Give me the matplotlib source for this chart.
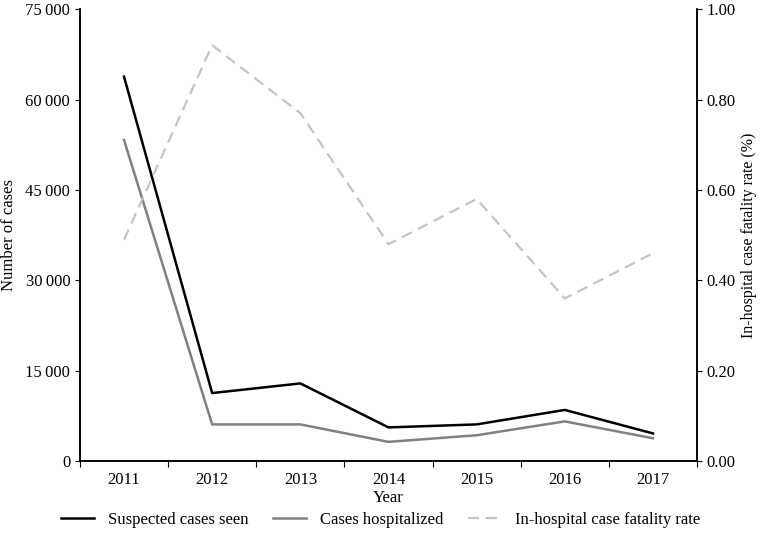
import matplotlib.pyplot as plt
import numpy as np
from matplotlib.ticker import FuncFormatter

plt.rcParams['font.family'] = ['Liberation Serif', 'DejaVu Serif']

years = ['2011', '2012', '2013', '2014', '2015', '2016', '2017']
suspected = [63800, 11300, 12900, 5600, 6100, 8500, 4600]
hospitalized = [53300, 6100, 6100, 3200, 4300, 6600, 3800]
cfr = [0.49, 0.92, 0.77, 0.48, 0.58, 0.36, 0.46]

x = np.arange(len(years))

fig = plt.figure(figsize=(7.61, 5.35), dpi=100)
ax = fig.add_axes([0.105, 0.138, 0.811, 0.845])
ax2 = ax.twinx()

l1, = ax.plot(x, suspected, color='black', lw=1.8, label='Suspected cases seen')
l2, = ax.plot(x, hospitalized, color='#808080', lw=1.8, label='Cases hospitalized')
l3, = ax2.plot(x, cfr, color='#c4c4c4', lw=1.6, ls=(0, (5, 3)), label='In-hospital case fatality rate')

ax.set_xlim(-0.5, len(years) - 0.5)
ax.set_ylim(0, 75000)
ax2.set_ylim(0, 1.0)
ax.set_yticks(np.arange(0, 75001, 15000))
ax.yaxis.set_major_formatter(FuncFormatter(lambda v, p: f'{int(v):,}'.replace(',', '\u2009')))
ax2.set_yticks(np.arange(0, 1.01, 0.2))
ax2.yaxis.set_major_formatter(FuncFormatter(lambda v, p: f'{v:.2f}'))

# ticks between the years, labels in the middle
ax.set_xticks(np.arange(-0.5, len(years), 1.0))
ax.set_xticklabels([])
ax.set_xticks(x, minor=True)
ax.set_xticklabels(years, minor=True)
ax.tick_params(axis='x', which='minor', length=0, pad=8, labelsize=12)
ax.tick_params(axis='x', which='major', length=4, direction='out')

for a in (ax, ax2):
    a.spines['top'].set_visible(False)
    a.tick_params(axis='y', labelsize=12)
    for s in a.spines.values():
        s.set_linewidth(1.1)

ax.set_xlabel('Year', fontsize=12)
ax.xaxis.set_label_coords(0.5, -0.064)
ax.set_ylabel('Number of cases', fontsize=12, labelpad=6)
ax2.set_ylabel('In-hospital case fatality rate (%)', fontsize=11.5, labelpad=4)

fig.legend(handles=[l1, l2, l3], loc='center', bbox_to_anchor=(0.5, 0.028), ncol=3,
           frameon=False, fontsize=12, handlelength=2.0, columnspacing=1.5)

fig.savefig('out.png', dpi=100)
